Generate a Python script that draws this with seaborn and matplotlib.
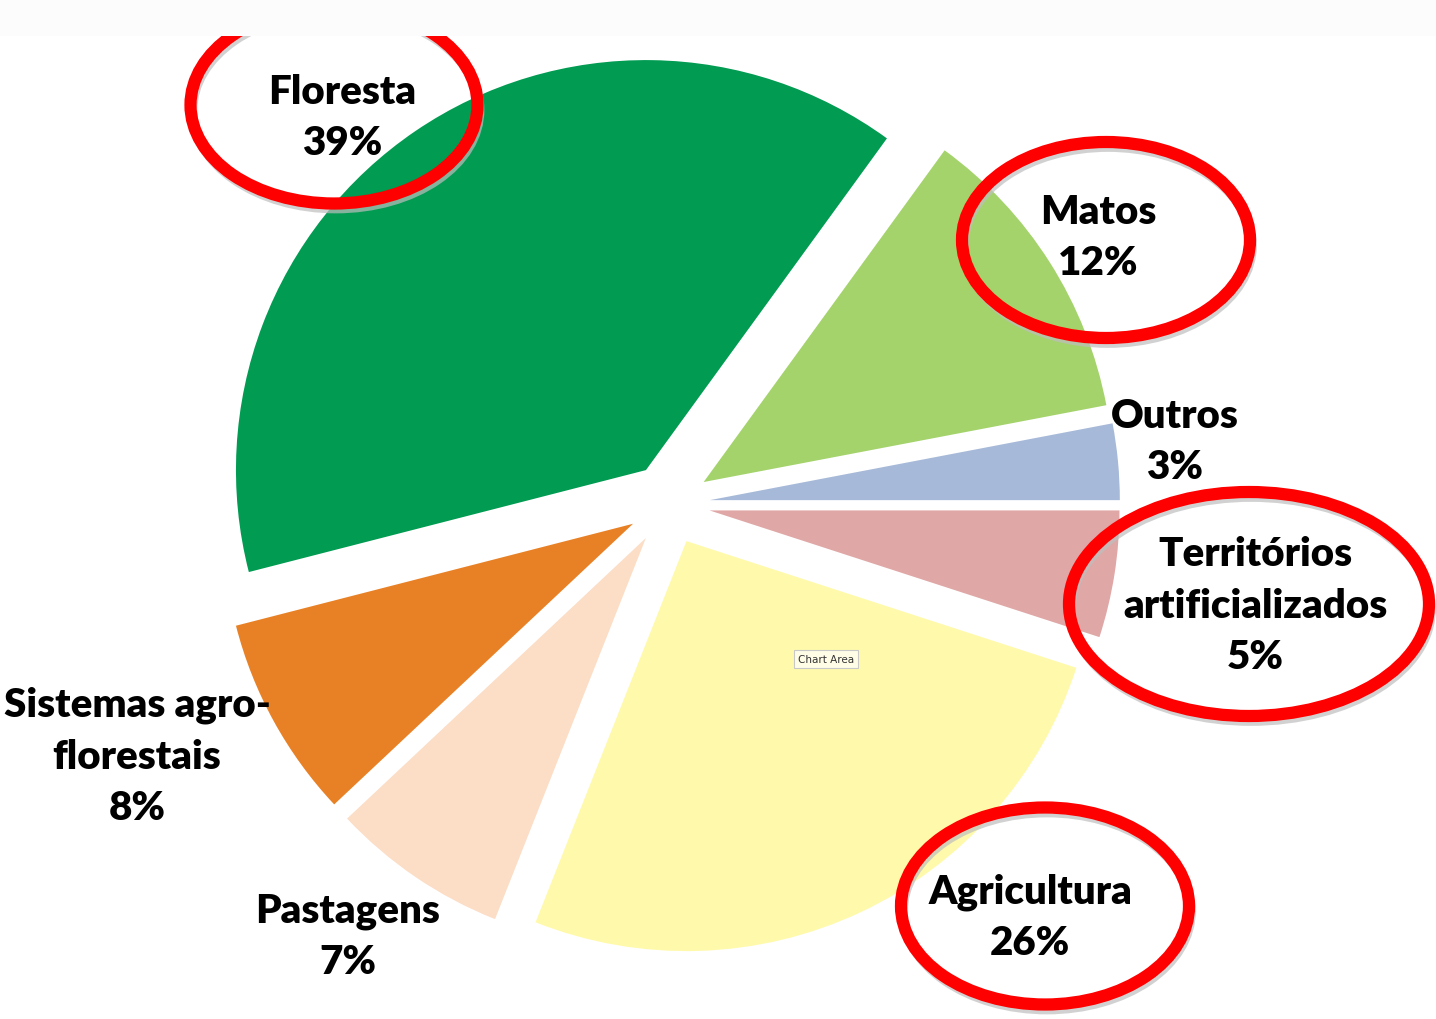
import matplotlib
matplotlib.use("Agg")
import matplotlib.pyplot as plt
from matplotlib.patches import Ellipse, Rectangle
import seaborn as sns

# Land-use shares (%), listed clockwise starting at the top-right wedge
categories = ["Matos", "Outros", "Territórios\nartificializados", "Agricultura",
              "Pastagens", "Sistemas agro-\nflorestais", "Floresta"]
shares = [12, 3, 5, 26, 7, 8, 39]
colors = ["#A4D36C", "#A6B9D8", "#DFA7A6", "#FFFAAB", "#FCDDC5", "#E88126", "#019B52"]

# Categories highlighted with a red ring
highlighted = ["Floresta", "Matos", "Territórios\nartificializados", "Agricultura"]

sns.set_theme(style="white")
plt.rcParams["font.family"] = ["Lato", "DejaVu Sans"]

W, H, DPI = 1436, 1020, 100
R_PX = 410.0           # pie radius in pixels
CX, CY = 669.0, 505.0  # pie centre in pixels (from top-left)


def px(x, y):
    """Pixel position (from top-left) -> data coordinates of the pie axes."""
    return (x - CX) / R_PX, (CY - y) / R_PX


fig = plt.figure(figsize=(W / DPI, H / DPI), dpi=DPI)
fig.patch.set_facecolor("white")
fig.patches.append(Rectangle((0, 1 - 37 / H), 1, 37 / H, transform=fig.transFigure,
                             facecolor="#FCFCFC", edgecolor="none", zorder=0))
ax = fig.add_axes([0, 0, 1, 1])
ax.patch.set_alpha(0)

ax.pie(shares, colors=colors, startangle=54, counterclock=False,
       explode=[0.1] * len(shares), radius=1.0,
       wedgeprops=dict(linewidth=0))

ax.set_xlim((0 - CX) / R_PX, (W - CX) / R_PX)
ax.set_ylim((CY - H) / R_PX, CY / R_PX)
ax.set_aspect("auto")
ax.axis("off")

# Label centres (pixels)
label_pos = {
    "Floresta": (342, 118),
    "Matos": (1098, 238),
    "Outros": (1175, 442),
    "Territórios\nartificializados": (1255, 606),
    "Agricultura": (1030, 918),
    "Pastagens": (348, 937),
    "Sistemas agro-\nflorestais": (137, 757),
}
for name, val in zip(categories, shares):
    x, y = px(*label_pos[name])
    ax.text(x, y, f"{name}\n{val}%", ha="center", va="center", ma="center",
            fontsize=29, fontweight="heavy", color="black", linespacing=1.48,
            zorder=5)

# Red rings (centre x, centre y, width, height in pixels)
rings = {
    "Floresta": (334, 106, 287, 197),
    "Matos": (1106, 241, 288, 196),
    "Territórios\nartificializados": (1249, 605, 360, 224),
    "Agricultura": (1045, 907, 288, 197),
}
for name in highlighted:
    ex, ey, ew, eh = rings[name]
    x, y = px(ex + 2, ey + 5)
    ax.add_patch(Ellipse((x, y), ew / R_PX, eh / R_PX, fill=False,
                         edgecolor="#BEBEBE", linewidth=7, alpha=0.7, zorder=6))
    x, y = px(ex, ey)
    ax.add_patch(Ellipse((x, y), ew / R_PX, eh / R_PX, fill=False,
                         edgecolor="#FF0000", linewidth=8.8, zorder=7))

# Hover tag over the chart area
tx, ty = px(826, 660)
ax.text(tx, ty, "Chart Area", ha="center", va="center", fontsize=7.5,
        family=["DejaVu Sans"], color="#333333", zorder=8,
        bbox=dict(boxstyle="square,pad=0.35", facecolor="#FFFDE6",
                  edgecolor="#C8C8C8", linewidth=0.8))

fig.savefig("out.png", dpi=DPI, facecolor="white")
